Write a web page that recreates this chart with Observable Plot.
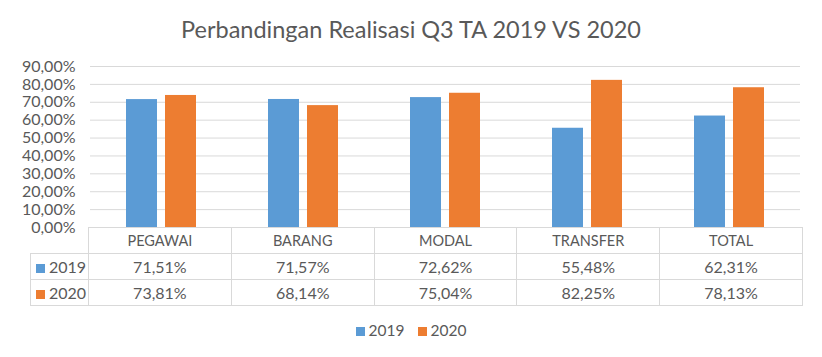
<!DOCTYPE html>
<html><head><meta charset="utf-8">
<script src="https://cdn.jsdelivr.net/npm/d3@7"></script>
<script src="https://cdn.jsdelivr.net/npm/@observablehq/plot@0.6"></script>
<style>
body{margin:0;background:#fff;font-family:Lato,"Open Sans",sans-serif;color:#595959}
#wrap{position:relative;width:822px;height:357px;overflow:hidden;background:#fff}
#title{position:absolute;left:0;top:14px;width:822px;text-align:center;font-size:23.5px;line-height:30px}
#chart{position:absolute;left:0;top:56px}
#chart svg{overflow:visible}
#tbl{position:absolute;left:30px;top:227px;border-collapse:collapse;font-size:16px;table-layout:fixed}
#tbl td{border:1px solid #d9d9d9;text-align:center;padding:0;height:25px;color:#595959;line-height:18px}
#tbl tr.head td{font-size:14.5px}
#tbl td.corner{border-top:none;border-left:none}
#tbl td.lab{text-align:left;padding-left:5px}
.sw{display:inline-block;width:9px;height:9px;margin-right:4px;vertical-align:0px}
#legend{position:absolute;left:0;top:321px;width:822px;display:flex;justify-content:center;gap:13px;font-size:15.5px}
</style></head>
<body><div id="wrap"><div id="title"></div><div id="chart"></div><table id="tbl"></table><div id="legend"></div></div>
<script>
const title = "Perbandingan Realisasi Q3 TA 2019 VS 2020";
const categories = ["PEGAWAI","BARANG","MODAL","TRANSFER","TOTAL"];
const series = ["2019","2020"];
const v2019 = [0.7151,0.7157,0.7262,0.5548,0.6231];
const v2020 = [0.7381,0.6814,0.7504,0.8225,0.7813];
const colors = ["#5b9bd5","#ed7d31"];
const yTicks = [0,0.1,0.2,0.3,0.4,0.5,0.6,0.7,0.8,0.9];

const fmt = d => (d*100).toFixed(2).replace(".", ",") + "%";
const values = {"2019": v2019, "2020": v2020};
const data = categories.flatMap((c,i) => series.map(s => ({cat:c, series:s, value:values[s][i]})));

document.getElementById("title").textContent = title;

const chart = Plot.plot({
  width: 822, height: 172,
  marginTop: 10, marginBottom: 1, marginLeft: 88, marginRight: 20,
  style: {fontFamily: "Lato, 'Open Sans', sans-serif", fontSize: "16px", color: "#595959", background: "transparent"},
  fx: {domain: categories, padding: 0, axis: null},
  x: {domain: series, paddingInner: 0.2, paddingOuter: 0.885, axis: null},
  y: {domain: [0, 0.9]},
  color: {domain: series, range: colors},
  marks: [
    Plot.gridY(yTicks, {stroke: "#d9d9d9", strokeOpacity: 1}),
    Plot.axisY(yTicks, {tickSize: 0, tickPadding: 15, tickFormat: fmt, label: null, fill: "#595959", fontSize: 16}),
    Plot.barY(data, {fx: "cat", x: "series", y: "value", fill: "series"})
  ]
});
document.getElementById("chart").appendChild(chart);

// data table
const tbl = document.getElementById("tbl");
const colg = document.createElement("colgroup");
[58, ...categories.map(() => 142.8)].forEach(w => { const c = document.createElement("col"); c.style.width = w + "px"; colg.appendChild(c); });
tbl.appendChild(colg);
const hr = tbl.insertRow(); hr.className = "head";
const corner = hr.insertCell(); corner.className = "corner";
categories.forEach(c => { hr.insertCell().textContent = c; });
series.forEach((s, si) => {
  const r = tbl.insertRow();
  const lab = r.insertCell(); lab.className = "lab";
  lab.innerHTML = `<span class="sw" style="background:${colors[si]}"></span>${s}`;
  values[s].forEach(v => { r.insertCell().textContent = fmt(v); });
});

// legend
const leg = document.getElementById("legend");
series.forEach((s, si) => {
  const d = document.createElement("div");
  d.innerHTML = `<span class="sw" style="background:${colors[si]}"></span>${s}`;
  leg.appendChild(d);
});
</script></body></html>
